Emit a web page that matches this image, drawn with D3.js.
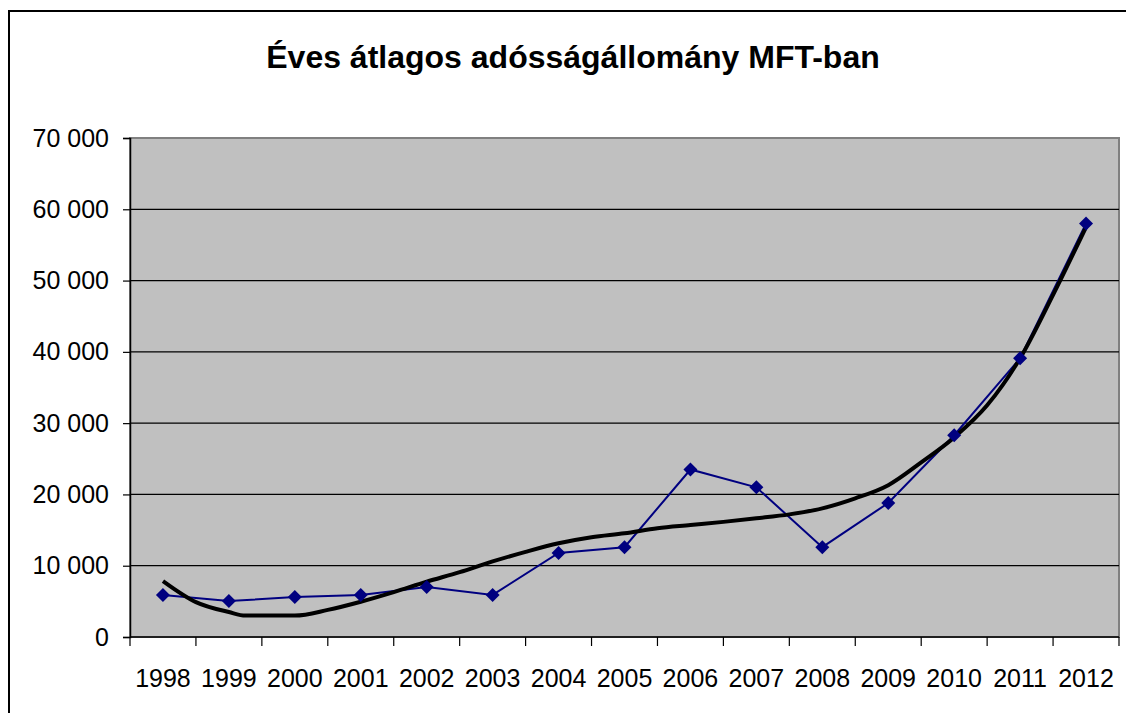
<!DOCTYPE html>
<html>
<head>
<meta charset="utf-8">
<script src="https://cdn.jsdelivr.net/npm/d3@7"></script>
<style>
body { margin: 0; background: #fff; }
svg { display: block; font-family: "Liberation Sans", Arial, sans-serif; }
</style>
</head>
<body>
<svg id="chart" width="1126" height="713"></svg>
<script>
// data
var years = [1998, 1999, 2000, 2001, 2002, 2003, 2004, 2005, 2006, 2007, 2008, 2009, 2010, 2011, 2012];
var debt = [5900, 5050, 5600, 5900, 7000, 5900, 11800, 12600, 23500, 21000, 12600, 18800, 28300, 39100, 58000];

// trendline samples (year position, value), read at category centres and half-steps
var trendX = [1998, 1998.5, 1999, 1999.25, 1999.5, 2000, 2000.5, 2001, 2001.5, 2002, 2002.5, 2003, 2003.5, 2004, 2004.5,
              2005, 2005.5, 2006, 2006.5, 2007, 2007.5, 2008, 2008.5, 2009, 2009.5, 2010, 2010.5, 2011, 2011.5, 2012];
var trendY = [7850, 4900, 3500, 3000, 3000, 3000, 3800, 4950, 6300, 7750, 9100, 10600, 11950, 13150, 14000,
              14550, 15250, 15700, 16150, 16650, 17200, 18050, 19450, 21300, 24500, 28000, 32500, 39100, 48000, 57500];

var yTicks = [0, 10000, 20000, 30000, 40000, 50000, 60000, 70000];

var plot = {left: 130, top: 138, right: 1119, bottom: 637};

var svg = d3.select("#chart");

// outer frame (runs off right and bottom)
svg.append("rect")
    .attr("x", 9).attr("y", 11)
    .attr("width", 1200).attr("height", 800)
    .attr("fill", "none").attr("stroke", "#000").attr("stroke-width", 2);

svg.append("text")
    .attr("x", 573).attr("y", 68)
    .attr("text-anchor", "middle")
    .attr("font-size", 32).attr("font-weight", "bold")
    .text("Éves átlagos adósságállomány MFT-ban");

var x = d3.scaleLinear().domain([1997.5, 2012.5]).range([plot.left, plot.right]);
var y = d3.scaleLinear().domain([0, 70000]).range([plot.bottom, plot.top]);

svg.append("rect")
    .attr("x", plot.left).attr("y", plot.top)
    .attr("width", plot.right - plot.left).attr("height", plot.bottom - plot.top)
    .attr("fill", "#c0c0c0").attr("stroke", "#808080").attr("stroke-width", 2);

// gridlines
svg.append("g").selectAll("line")
    .data(yTicks.filter(function(d) { return d > 0 && d < 70000; }))
    .enter().append("line")
    .attr("x1", plot.left).attr("x2", plot.right)
    .attr("y1", function(d) { return y(d); }).attr("y2", function(d) { return y(d); })
    .attr("stroke", "#000").attr("stroke-width", 1.2);

// y axis
var fmt = function(d) { return d3.format(",")(d).replace(/,/g, " "); };
var yAxis = svg.append("g")
    .attr("transform", "translate(" + plot.left + ",0)")
    .call(d3.axisLeft(y).tickValues(yTicks).tickSize(7).tickPadding(14).tickFormat(fmt));
yAxis.select(".domain").attr("stroke", "#000").attr("stroke-width", 1.5);
yAxis.selectAll(".tick line").attr("stroke", "#000").attr("stroke-width", 1.2);
yAxis.selectAll("text").attr("font-size", 25).attr("font-family", "Liberation Sans, Arial, sans-serif").attr("fill", "#000");

// x axis: ticks between categories, labels at centres
var bounds = d3.range(1997.5, 2013, 1);
var xAxis = svg.append("g")
    .attr("transform", "translate(0," + plot.bottom + ")");
xAxis.append("line")
    .attr("x1", plot.left).attr("x2", plot.right)
    .attr("stroke", "#000").attr("stroke-width", 1.5);
xAxis.selectAll(".tk").data(bounds).enter().append("line")
    .attr("x1", function(d) { return x(d); }).attr("x2", function(d) { return x(d); })
    .attr("y1", 0).attr("y2", 9)
    .attr("stroke", "#000").attr("stroke-width", 1.2);
xAxis.selectAll(".lbl").data(years).enter().append("text")
    .attr("x", function(d) { return x(d); })
    .attr("y", 50)
    .attr("text-anchor", "middle")
    .attr("font-size", 25)
    .text(function(d) { return d; });

// data series
var line = d3.line()
    .x(function(d, i) { return x(years[i]); })
    .y(function(d) { return y(d); });
svg.append("path")
    .datum(debt)
    .attr("d", line)
    .attr("fill", "none").attr("stroke", "#000080").attr("stroke-width", 2);

// trendline
var trendLine = d3.line()
    .x(function(d, i) { return x(trendX[i]); })
    .y(function(d) { return y(d); })
    .curve(d3.curveMonotoneX);
svg.append("path")
    .datum(trendY)
    .attr("d", trendLine)
    .attr("fill", "none").attr("stroke", "#000").attr("stroke-width", 4)
    .attr("stroke-linejoin", "round");

// diamonds
svg.append("g").selectAll("path")
    .data(debt).enter().append("path")
    .attr("transform", function(d, i) { return "translate(" + x(years[i]) + "," + y(d) + ")"; })
    .attr("d", "M0,-7L7,0L0,7L-7,0Z")
    .attr("fill", "#000080");
</script>
</body>
</html>
